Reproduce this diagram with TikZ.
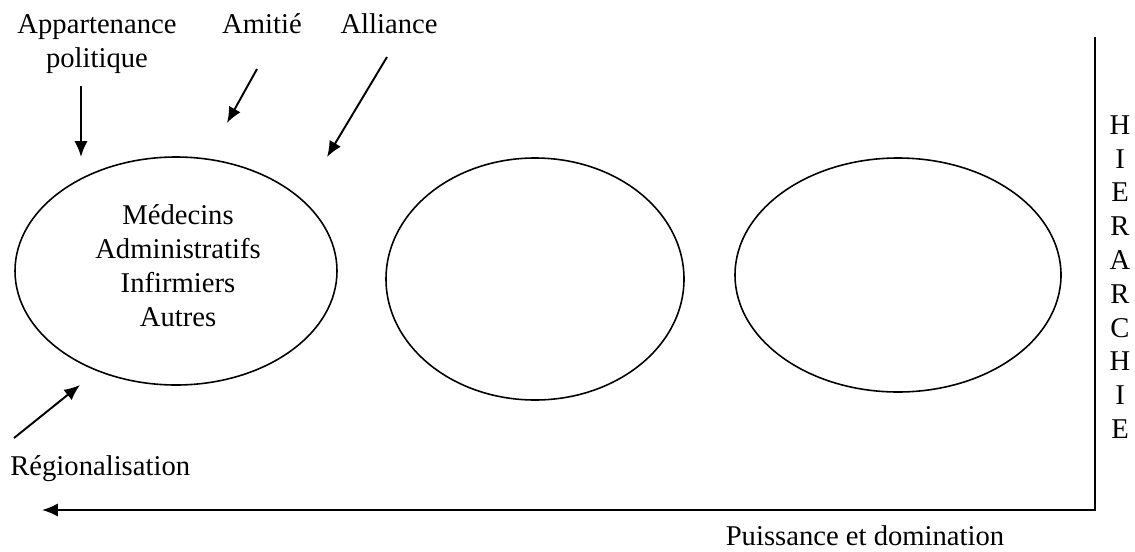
\documentclass[tikz,border=0pt]{standalone}
\usepackage{fontspec}
\setmainfont{Liberation Serif}
\usetikzlibrary{arrows.meta}
\tikzset{
 lbl/.style={inner sep=0, font=\fontsize{16.3}{19.3}\selectfont, align=center},
 grp/.style={draw, line width=0.9pt},
 pointer/.style={line width=1.1pt, -{Latex[length=9pt,width=7.5pt]}}
}
\begin{document}
\begin{tikzpicture}[x=0.02cm, y=-0.02cm]
\useasboundingbox (0,0) rectangle (1135,551);
% groups
\draw[grp] (176,271) ellipse [x radius=161, y radius=114];
\draw[grp] (535,279) ellipse [x radius=149, y radius=121];
\draw[grp] (898,275) ellipse [x radius=163, y radius=117];
\node[lbl, anchor=base] (corps) at (178,326) {Médecins\\Administratifs\\Infirmiers\\Autres};
% influences
\node[lbl, anchor=base] (appart) at (97,67) {Appartenance\\politique};
\node[lbl, anchor=base] (amitie) at (262,33) {Amitié};
\node[lbl, anchor=base] (alliance) at (389,33) {Alliance};
\node[lbl, anchor=base west] (region) at (10,475) {Régionalisation};
\coordinate (appart s) at (81,86);   \coordinate (appart e) at (81,157);
\coordinate (amitie s) at (257,69);  \coordinate (amitie e) at (227,123);
\coordinate (alliance s) at (387,57); \coordinate (alliance e) at (327,157);
\coordinate (region s) at (14,438);  \coordinate (region e) at (80,385);
\foreach \n in {appart,amitie,alliance,region}
 \draw[pointer] (\n\space s)--(\n\space e);
% axes
\coordinate (top) at (1095,37);
\coordinate (corner) at (1095,510);
\coordinate (tip) at (42,510);
\draw[line width=1.1pt] (top)--(corner);
\draw[pointer] ([xshift=0.6pt]corner)--(tip);
\node[lbl, anchor=base] (puissance) at (865,545) {Puissance et domination};
\foreach \l [count=\i from 0] in {H,I,E,R,A,R,C,H,I,E}
 \node[lbl] (h\i) at (1120,125+33.8*\i) {\l};
\end{tikzpicture}
\end{document}
